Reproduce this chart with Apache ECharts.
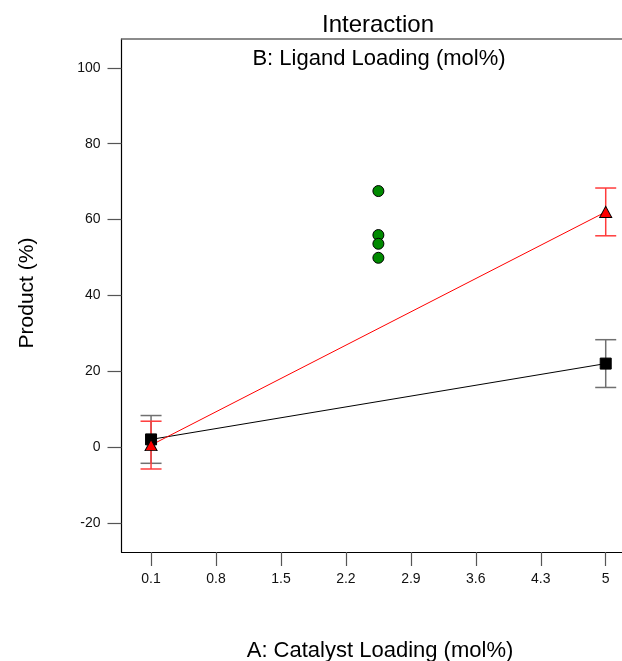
<!DOCTYPE html>
<html>
<head>
<meta charset="utf-8">
<title>Interaction</title>
<script src="https://cdn.jsdelivr.net/npm/echarts@6/dist/echarts.min.js"></script>
<style>
  html, body { margin: 0; padding: 0; background: #fff; }
  #chart { width: 622px; height: 661px; }
</style>
</head>
<body>
<div id="chart"></div>
<script>
// Factor A levels (catalyst loading, mol%)
const catalystLevels = [0.1, 5];
// Predicted means at the low ligand level (black squares)
const ligandLowMeans = [2.0, 22.0];
// Predicted means at the high ligand level (red triangles)
const ligandHighMeans = [0.5, 62.0];
// Half-width of the LSD bars
const lsdHalfWidth = [6.3, 6.3];
// Observed centre-point runs
const centerPointX = 2.55;
const centerPointValues = [67.5, 55.9, 53.6, 49.9];
// Axis tick labels
const xTicks = [0.1, 0.8, 1.5, 2.2, 2.9, 3.6, 4.3, 5];
const yTicks = [-20, 0, 20, 40, 60, 80, 100];

const FONT = "'Liberation Sans', Arial, sans-serif";
// Visible x range (the frame runs past the right edge of the canvas)
const X_MIN = -0.2185;
const X_MAX = 5.1755;

const pairs = (xs, ys) => xs.map((x, i) => [x, ys[i]]);
const bars = (xs, ys, hw) => xs.map((x, i) => [x, ys[i] - hw[i], ys[i] + hw[i]]);

function errorBarSeries(name, data, color) {
  return {
    name: name,
    type: 'custom',
    z: 3,
    data: data,
    encode: { x: 0, y: [1, 2] },
    renderItem: function (params, api) {
      const x = api.value(0);
      const lo = api.coord([x, api.value(1)]);
      const hi = api.coord([x, api.value(2)]);
      const half = 10.5;
      const style = { stroke: color, lineWidth: 1.5 };
      return {
        type: 'group',
        children: [
          { type: 'line', shape: { x1: hi[0], y1: hi[1], x2: lo[0], y2: lo[1] }, style: style },
          { type: 'line', shape: { x1: hi[0] - half, y1: hi[1], x2: hi[0] + half, y2: hi[1] }, style: style },
          { type: 'line', shape: { x1: lo[0] - half, y1: lo[1], x2: lo[0] + half, y2: lo[1] }, style: style }
        ]
      };
    }
  };
}

const chart = echarts.init(document.getElementById('chart'), null, { renderer: 'canvas' });

chart.setOption({
  animation: false,
  backgroundColor: '#ffffff',
  grid: { left: 121.5, right: 0, top: 39, bottom: 109, containLabel: false },
  xAxis: [
    {
      type: 'value',
      min: X_MIN,
      max: X_MAX,
      axisLine: { show: true, onZero: false, lineStyle: { color: '#000', width: 1.2 } },
      axisTick: {
        show: true, inside: false, length: 14, customValues: xTicks,
        lineStyle: { color: '#555', width: 1.2 }
      },
      axisLabel: {
        show: true, customValues: xTicks, margin: 20,
        fontFamily: FONT, fontSize: 14, color: '#111',
        formatter: v => String(Math.round(v * 10) / 10)
      },
      splitLine: { show: false }
    },
    {
      type: 'value',
      position: 'top',
      min: X_MIN,
      max: X_MAX,
      axisLine: { show: true, onZero: false, lineStyle: { color: '#666', width: 1.5 } },
      axisTick: { show: false },
      axisLabel: { show: false },
      splitLine: { show: false }
    }
  ],
  yAxis: {
    type: 'value',
    min: -27.69,
    max: 107.6,
    axisLine: { show: true, onZero: false, lineStyle: { color: '#000', width: 1.2 } },
    axisTick: {
      show: true, inside: false, length: 14, customValues: yTicks,
      lineStyle: { color: '#555', width: 1.2 }
    },
    axisLabel: {
      show: true, customValues: yTicks, margin: 21,
      fontFamily: FONT, fontSize: 14, color: '#111'
    },
    splitLine: { show: false }
  },
  graphic: [
    {
      type: 'text', x: 378, y: 25, z: 10,
      style: { text: 'Interaction', font: '24px ' + FONT, fill: '#000', align: 'center', verticalAlign: 'middle' }
    },
    {
      type: 'text', x: 379, y: 59, z: 10,
      style: { text: 'B: Ligand Loading (mol%)', font: '22px ' + FONT, fill: '#000', align: 'center', verticalAlign: 'middle' }
    },
    {
      type: 'text', x: 380, y: 651, z: 10,
      style: { text: 'A: Catalyst Loading (mol%)', font: '22px ' + FONT, fill: '#000', align: 'center', verticalAlign: 'middle' }
    },
    {
      type: 'text', x: 27.5, y: 293, rotation: Math.PI / 2, z: 10,
      style: { text: 'Product (%)', font: '21px ' + FONT, fill: '#000', align: 'center', verticalAlign: 'middle' }
    }
  ],
  series: [
    {
      name: 'B- line',
      type: 'line',
      z: 2,
      data: pairs(catalystLevels, ligandLowMeans),
      symbol: 'none',
      lineStyle: { color: '#000', width: 1 }
    },
    errorBarSeries('B- LSD', bars(catalystLevels, ligandLowMeans, lsdHalfWidth), '#707070'),
    {
      name: 'B+ line',
      type: 'line',
      z: 4,
      data: pairs(catalystLevels, ligandHighMeans),
      symbol: 'none',
      lineStyle: { color: '#ff0000', width: 1 }
    },
    errorBarSeries('B+ LSD', bars(catalystLevels, ligandHighMeans, lsdHalfWidth), '#ff3b3b'),
    {
      name: 'B-',
      type: 'scatter',
      z: 6,
      data: pairs(catalystLevels, ligandLowMeans),
      symbol: 'rect',
      symbolSize: 11,
      itemStyle: { color: '#000', borderColor: '#000', borderWidth: 1, opacity: 1 }
    },
    {
      name: 'B+',
      type: 'scatter',
      z: 7,
      data: pairs(catalystLevels, ligandHighMeans),
      symbol: 'triangle',
      symbolSize: [12, 11],
      itemStyle: { color: '#ff0000', borderColor: '#000', borderWidth: 1, opacity: 1 }
    },
    {
      name: 'Centre points',
      type: 'scatter',
      z: 8,
      data: centerPointValues.map(v => [centerPointX, v]),
      symbol: 'circle',
      symbolSize: 11,
      itemStyle: { color: '#008a00', borderColor: '#000', borderWidth: 1, opacity: 1 }
    }
  ]
});
</script>
</body>
</html>
